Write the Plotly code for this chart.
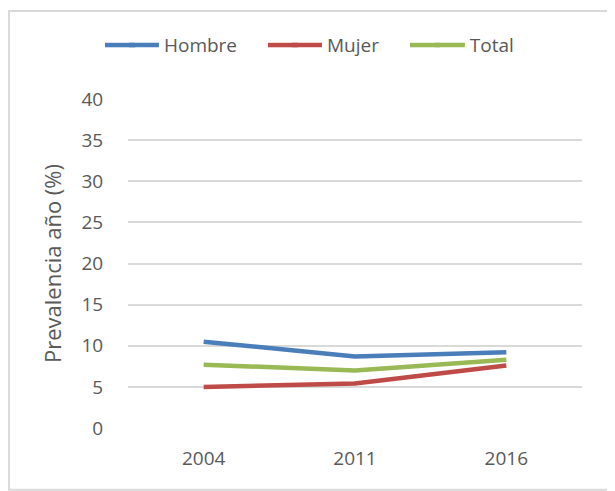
import plotly.graph_objects as go

# datos
anios = ["2004", "2011", "2016"]
series = ["Hombre", "Mujer", "Total"]
hombre = [10.5, 8.7, 9.2]
mujer = [5.0, 5.4, 7.6]
total = [7.7, 7.0, 8.3]

colores = ["#4a7ebb", "#be4b48", "#98b954"]
gris = "#595959"

fig = go.Figure()
for i, (nombre, valores) in enumerate(zip(series, [hombre, mujer, total])):
    fig.add_trace(go.Scatter(x=anios, y=valores, mode="lines", name=nombre,
                             legend="legend" if i == 0 else f"legend{i + 1}",
                             line=dict(color=colores[i], width=4.5)))

# marco exterior del grafico (la pagina tiene 8px de margen)
fig.add_shape(type="rect", xref="paper", yref="paper",
              x0=-0.262, x1=1.068, y0=-0.188, y1=1.2675,
              line=dict(color="#d9d9d9", width=2))

# una leyenda por serie, para separarlas como en el original;
# la muestra de linea de Excel es mas larga, se alarga con un trazo
leyenda_x = [0.191, 0.4596, 0.695]
muestra_x = [(-0.0507, 0.0154), (0.3084, 0.3744), (0.6211, 0.6872)]
leyendas = {}
for i in range(3):
    clave = "legend" if i == 0 else f"legend{i + 1}"
    leyendas[clave] = dict(orientation="h", xref="container", yref="container",
                           x=leyenda_x[i], y=0.923, xanchor="left", yanchor="middle",
                           bgcolor="rgba(0,0,0,0)", font=dict(size=19, color=gris))
    fig.add_shape(type="line", xref="paper", yref="paper",
                  x0=muestra_x[i][0], x1=muestra_x[i][1], y0=1.164, y1=1.164,
                  line=dict(color=colores[i], width=4.5))

fig.update_layout(
    width=607, height=483,
    margin=dict(l=120, r=33, t=91, b=63, autoexpand=False),
    paper_bgcolor="white", plot_bgcolor="white",
    font=dict(family="Open Sans, Liberation Sans, sans-serif", size=19, color=gris),
    showlegend=True,
    xaxis=dict(type="category", range=[-0.5, 2.5], showgrid=False, showline=False,
               automargin=False, ticks="outside", ticklen=13,
               tickcolor="rgba(0,0,0,0)", tickfont=dict(size=19, color=gris)),
    yaxis=dict(range=[0, 40], dtick=5, showgrid=True, gridcolor="#d9d9d9", gridwidth=2,
               zeroline=False, showline=False, automargin=False, ticks="outside",
               ticklen=20, tickcolor="rgba(0,0,0,0)", tickfont=dict(size=19, color=gris),
               title=dict(text="Prevalencia año (%)", standoff=13,
                          font=dict(size=22, color=gris))),
    **leyendas,
)

fig.write_html("out.html")
